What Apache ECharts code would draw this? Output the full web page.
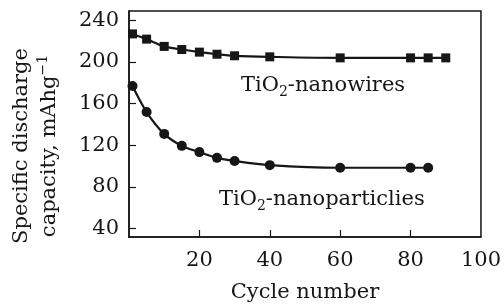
<!DOCTYPE html>
<html>
<head>
<meta charset="utf-8">
<script src="https://cdn.jsdelivr.net/npm/echarts@6/dist/echarts.min.js"></script>
<style>
  html, body { margin: 0; padding: 0; background: #fff; }
  #chart { width: 504px; height: 308px; }
</style>
</head>
<body>
<div id="chart"></div>
<script>
// cycle numbers and capacities
const wireCycles = [1, 5, 10, 15, 20, 25, 30, 40, 60, 80, 85, 90];
const wireCapacity = [227, 222, 215, 212, 209.5, 207.5, 206, 205, 204, 204, 204, 204];
const particleCycles = [1, 5, 10, 15, 20, 25, 30, 40, 60, 80, 85];
const particleCapacity = [177, 152, 131, 119.5, 113.5, 108, 105, 101, 98.5, 98.5, 98.5];
const yTicks = [40, 80, 120, 160, 200, 240];
const xTicks = [20, 40, 60, 80, 100];

const FONT = "DejaVu Serif";
const INK = "#161616";

const pairs = (xs, ys) => xs.map((x, i) => [x, ys[i]]);

const chart = echarts.init(document.getElementById("chart"));

// rich styles for the sub/superscripts
const labelRich = {
  n: { fontFamily: FONT, fontSize: 21, fill: INK, lineHeight: 27 },
  sub: { fontFamily: FONT, fontSize: 14, fill: INK, lineHeight: 14, verticalAlign: "bottom" }
};

const option = {
  animation: false,
  grid: {
    left: 126,
    right: 4,
    top: 11,
    bottom: 66,
    show: true,
    borderColor: INK,
    borderWidth: 1.5
  },
  xAxis: {
    type: "value",
    min: 0,
    max: 100,
    name: "Cycle number",
    nameLocation: "middle",
    nameGap: 45,
    nameTextStyle: { fontFamily: FONT, fontSize: 21, color: INK },
    axisLine: { lineStyle: { color: INK, width: 1.5 } },
    axisTick: { inside: true, length: 7, customValues: [20, 40, 60, 80], lineStyle: { color: INK, width: 1.2 } },
    axisLabel: { customValues: xTicks, margin: 13, fontFamily: FONT, fontSize: 21, color: INK },
    splitLine: { show: false }
  },
  yAxis: {
    type: "value",
    min: 32,
    max: 249,
    name: "Specific discharge\n{n|capacity, mAhg}{sup|−1}",
    nameLocation: "middle",
    nameRotate: 90,
    nameGap: 65,
    nameTextStyle: {
      fontFamily: FONT,
      fontSize: 21,
      color: INK,
      lineHeight: 28,
      padding: [0, 44, 0, 0],
      rich: {
        n: { fontFamily: FONT, fontSize: 21, color: INK, lineHeight: 28 },
        sup: { fontFamily: FONT, fontSize: 14, color: INK, lineHeight: 14, verticalAlign: "top" }
      }
    },
    axisLine: { lineStyle: { color: INK, width: 1.5 } },
    axisTick: { inside: true, length: 7, customValues: yTicks, lineStyle: { color: INK, width: 1.2 } },
    axisLabel: { customValues: yTicks, margin: 10, fontFamily: FONT, fontSize: 21, color: INK },
    splitLine: { show: false }
  },
  graphic: [
    {
      type: "text",
      left: 241,
      top: 75,
      style: { text: "{n|TiO}{sub|2}{n|-nanowires}", fill: INK, rich: labelRich }
    },
    {
      type: "text",
      left: 219,
      top: 189,
      style: { text: "{n|TiO}{sub|2}{n|-nanoparticlies}", fill: INK, rich: labelRich }
    }
  ],
  series: [
    {
      name: "TiO2-nanowires",
      type: "line",
      data: pairs(wireCycles, wireCapacity),
      smooth: 0.3,
      symbol: "rect",
      symbolSize: 9,
      itemStyle: { color: INK },
      lineStyle: { color: INK, width: 2.2 }
    },
    {
      name: "TiO2-nanoparticlies",
      type: "line",
      data: pairs(particleCycles, particleCapacity),
      smooth: 0.3,
      symbol: "circle",
      symbolSize: 10,
      itemStyle: { color: INK },
      lineStyle: { color: INK, width: 2.2 }
    }
  ]
};

chart.setOption(option);
</script>
</body>
</html>
